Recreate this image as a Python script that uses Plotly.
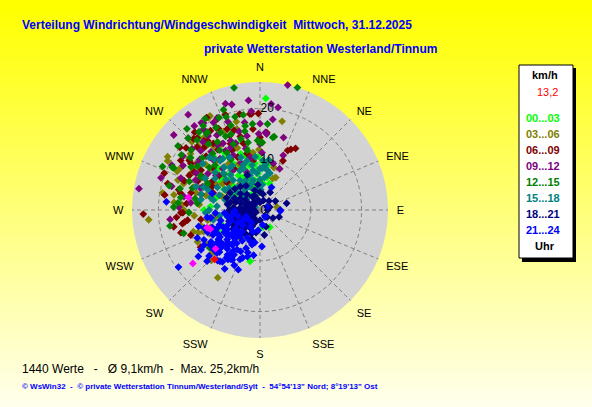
import plotly.graph_objects as go

W, H = 592, 407

# (direction in degrees, speed in km/h), one list per 3-hour block
h00_03 = [(347, 9), (337, 7.4), (0, 3.9), (321, 9.3), (334, 5.8), (341, 11.7), (319, 14), (311, 9.5),
          (306, 5.6), (248, 8), (338, 3.6), (292, 3.8), (270, 11), (357, 7.2), (6, 5.3), (354, 9.2),
          (330, 10.6), (214, 2.8), (348, 4.6), (150, 3.9), (170, 3.4), (191, 10.3), (339, 5.4), (6, 8.8),
          (320, 18.7), (317, 14.2), (230, 10), (274, 9.8), (258, 6.6), (264, 5.3), (3, 22), (325, 12.5),
          (315, 11.5), (300, 8.2), (343, 6.5), (352, 10.5), (328, 8), (310, 12), (12, 6.5), (20, 5.5),
          (330, 7), (335, 9.5), (340, 8.5), (345, 11), (350, 6), (355, 8), (358, 10.5), (325, 10),
          (318, 11), (312, 7), (305, 9.5), (300, 6.5), (290, 7), (343, 3), (0, 6), (3, 9.5), (348, 12.5),
          (336, 13), (322, 6), (315, 8.5), (280, 6), (285, 9), (328, 13.5), (10, 9), (240, 9), (250, 6),
          (345, 14)]

h03_06 = [(265, 22), (298, 20.6), (14, 18), (18, 8.8), (22, 6.7), (212, 15.7), (228, 12.6), (224, 13.8),
          (243, 13.8), (275, 17), (332, 21), (306, 17.3), (306, 15.6), (280, 17.2), (268, 15.2), (250, 13),
          (249, 11.9), (359, 11.9), (353, 11.4), (26, 7.1), (316, 17.6), (322, 18), (324, 15.6), (337, 14.8),
          (289, 13.8), (259, 10.5), (298, 15.4), (298, 17.7), (251, 10.3), (262, 9.3), (299, 7.3), (323, 6.5),
          (284, 5.4), (80, 3.4), (258, 4.6), (331, 20.8), (344, 16.6), (309, 17.6), (303, 15.5), (289, 15.9),
          (290, 17.2), (252, 13.8), (238, 12.6), (213, 6.8), (274, 15.4), (270, 15), (261, 8.5), (310, 12),
          (318, 13), (326, 11), (335, 10), (300, 12.5), (285, 11),
          (300, 10), (310, 14), (320, 11), (330, 15), (285, 13), (295, 18), (315, 19), (340, 13), (305, 9),
          (275, 12), (265, 13), (255, 12), (245, 11), (290, 8), (320, 16.5), (345, 18), (335, 17), (312, 8),
          (280, 19.5), (300, 21)]

h06_09 = [(359, 19), (355, 19), (25, 12.9), (25, 10.7), (27, 13.4), (332, 18.3), (30, 14), (268, 23),
          (308, 20), (291, 20.2), (286, 18.9), (261, 15), (260, 15.5), (259, 17.3), (262, 14.4), (268, 15.6),
          (292, 12.2), (284, 14), (335, 19.8), (333, 18), (338, 17.2), (338, 15.8), (348, 19.3), (354, 19),
          (5, 15.3), (0, 14.3), (319, 18.8), (321, 17.5), (328, 18.4), (302, 18.4), (304, 16.4), (291, 16),
          (304, 14), (312, 12.4), (321, 12.5), (293, 11.3), (290, 9.8), (254, 16.2), (261, 11.8), (336, 14.3),
          (346, 13.5), (337, 11.3), (347, 11.4), (352, 9.8), (238, 13.8), (268, 15.2), (317, 19.2), (323, 17.1),
          (315, 15), (300, 13), (310, 10.5), (325, 14.5), (296, 15.5), (330, 12), (318, 16.5), (284, 16.5),
          (279, 19),
          (300, 11), (305, 17), (315, 17.5), (325, 16), (335, 13), (345, 15), (355, 16), (285, 12),
          (295, 13.5), (310, 19), (320, 20), (330, 21), (340, 20), (282, 16), (275, 14.5), (265, 16.5),
          (250, 14.5), (300, 15), (310, 8.5), (318, 13.5), (328, 9.5), (342, 16.5), (296, 10.5)]

h09_12 = [(12.5, 25.2), (280, 24.2), (342, 22), (323, 23.5), (354, 21.7), (8, 18), (311, 22.5), (4, 15.3),
          (23, 11.7), (359, 15), (5, 15), (16, 9.5), (25.5, 9), (327, 20.4), (325, 19.4), (337, 14.8),
          (315, 20), (326, 20.7), (264, 17.8), (327, 15.2), (335, 13.6), (350, 14.8), (0, 13), (2, 11.3),
          (334, 12), (317, 13.4), (307, 15.3), (292, 16.8), (280, 15.2), (276, 13.7), (341, 7.8), (347, 12.4),
          (331, 15), (317, 14.2), (320, 17.5), (312, 18), (300, 17.5), (330, 17), (340, 18.5), (345, 16),
          (318, 11), (305, 12.5), (295, 14), (325, 9.5), (10, 20.5), (350, 10.5), (297, 19.5), (322, 21),
          (332, 19.5),
          (300, 14.5), (310, 15.5), (320, 15), (330, 13.5), (340, 14), (350, 17.5), (355, 19.5), (285, 18),
          (290, 12.5), (305, 18.5), (315, 16.5), (325, 17.8), (335, 20), (345, 21.5), (0, 17), (6, 21),
          (18, 15), (308, 11), (322, 12.8), (338, 10), (272, 16), (288, 20.5)]

h12_15 = [(17, 25.2), (348, 24.6), (350, 19), (10, 14.5), (294, 21), (260, 18), (253, 15.7), (233, 12.4),
          (326, 20), (329, 21), (336, 19.9), (11, 14.7), (0, 13.3), (349, 15.8), (339, 16), (296, 19.2),
          (325, 18.3), (332, 18.4), (285, 16.3), (275, 16.2), (307, 17.1), (299, 13.3), (297, 11.6), (296, 18.9),
          (358, 13.7), (350, 13.5), (350, 16.8), (341, 17.6), (333, 17.1), (326, 18.5), (311, 18), (305, 18.9),
          (312, 15.3), (320, 14.5), (326, 14.2), (279, 15.8), (272, 17), (276, 12.4), (235, 11.9), (230, 10.1),
          (2, 13.3), (318, 21.5), (340, 21), (302, 16), (315, 12.5), (288, 14), (330, 11.5), (322, 16.5),
          (308, 20.5), (345, 19),
          (300, 13.5), (310, 13), (318, 18.5), (328, 15.8), (338, 14), (348, 12), (355, 17), (285, 18.5),
          (292, 15), (305, 15), (315, 20), (322, 19.5), (335, 16), (345, 14.5), (5, 17), (268, 14), (280, 13),
          (315, 10), (330, 13), (340, 19.5), (295, 11.5)]

h15_18 = [(10, 8), (3, 8.2), (355, 7.3), (347, 6), (337, 4.9), (315, 4.7), (318, 7.9), (315, 10.2),
          (298, 9.5), (282, 9.4), (286, 7.1), (274, 5.9), (291, 10.9), (321, 12.5), (325, 10.2), (333, 8.7),
          (345, 10), (3.5, 9.8), (350, 7.9), (280, 11.8), (267, 10.7), (258, 9.4), (290, 13.4), (308, 5.7),
          (292, 3.6), (338, 8.8), (0, 8.2), (344, 7.1), (337, 8.9), (328, 10.3), (324, 12.5), (316, 14.4),
          (309, 14.5), (305, 10.8), (292, 12), (284, 10), (315, 6.3), (311, 3.9), (300, 1.1), (279, 2.6),
          (8, 6.5), (12, 7), (15, 7.5), (5, 5), (2, 4), (330, 6), (320, 9), (300, 8), (310, 11.5), (340, 11),
          (296, 6), (325, 5),
          (320, 11), (330, 12), (335, 6.5), (340, 9.5), (350, 9), (355, 10.5), (0, 6), (7, 9), (312, 9),
          (305, 7.5), (300, 12.5), (290, 8.5), (285, 12), (275, 8.5), (270, 10), (262, 8), (318, 13.5),
          (326, 7), (342, 5.5), (352, 4), (10, 10), (322, 3.5), (296, 4.5)]

h18_21 = [(76, 5.4), (122, 3), (340, 7.3), (73, 2), (270, 2), (260, 3), (250, 4), (240, 3.5), (230, 4.5),
          (220, 3), (210, 4), (200, 2.5), (280, 3), (290, 4), (300, 2.5), (310, 5), (320, 4), (330, 3),
          (350, 2), (0, 1.5), (20, 2), (45, 2.5), (90, 1.5), (135, 2), (180, 2), (190, 4.5), (215, 5.5),
          (235, 5.8), (255, 5.5), (265, 4.8), (275, 5.2), (285, 6), (295, 5.5), (305, 3.5), (245, 2),
          (225, 2), (205, 3.5), (260, 1), (280, 1.5), (235, 6.5), (220, 6.5), (250, 6.5), (265, 6.5),
          (300, 6.8), (330, 5.5), (345, 4), (10, 3.2), (60, 3.5), (110, 4), (160, 3.5), (170, 5), (195, 6),
          (240, 1), (315, 1.5),
          (265, 3.5), (275, 4), (255, 2.5), (245, 5), (235, 3), (225, 4), (215, 2), (285, 2), (295, 3),
          (250, 5.5), (260, 6), (270, 6), (280, 6.5), (240, 6), (230, 6), (210, 5.5), (200, 5), (290, 7),
          (310, 6.5), (320, 6), (300, 4.5), (325, 2), (340, 3), (355, 5), (0, 3.5), (30, 4), (220, 4.8),
          (262, 4.2), (248, 3), (232, 5.2), (272, 2.8), (288, 5)]

h21_24 = [(235, 19.6), (275, 18.5), (90, 4), (27, 5), (177, 7.2), (233, 15.2), (216, 12.6), (213, 11.6),
          (209, 11.2), (202, 10.5), (196, 8.7), (197, 6.5), (189, 6.5), (140, 1.5), (67, 1.5), (237, 11.5),
          (242, 10.5), (247, 9.1), (239, 7.5), (230, 6.9), (217, 6.5), (228, 8.7), (227, 9.9), (228, 11),
          (230, 12), (240, 5.1), (240, 3.8), (210, 3.8), (219, 8.3), (210, 9), (214, 10.5), (198, 4.5),
          (266, 8.8), (261, 9.8), (247, 11.2), (233, 10.3), (211, 11.3), (218, 12.8), (193, 7), (216, 10.9),
          (93, 4), (144, 1.7), (289, 10), (225, 7.5), (222, 9.5), (232, 7.8), (236, 9.5), (224, 11.5),
          (220, 5.5), (205, 6), (250, 6), (255, 4.5), (245, 8), (228, 4.5), (200, 8), (185, 4), (170, 3),
          (260, 5.5), (215, 3), (238, 13), (221, 7.2), (226, 10.6), (234, 8.2),
          (230, 8), (225, 9), (235, 10), (220, 10), (215, 8), (225, 12), (232, 11), (240, 9.5), (245, 7),
          (250, 8.5), (210, 7), (205, 9), (200, 10), (220, 13), (228, 13.5), (235, 12), (242, 12.5),
          (250, 10), (255, 8), (258, 6.5), (215, 11.5), (210, 10.2), (205, 12), (227, 7), (233, 6), (223, 6),
          (218, 8.8), (238, 8.3), (229, 10), (213, 9.5), (244, 10), (252, 11.5), (195, 9.5), (188, 9),
          (200, 12.5), (211, 13.5), (226, 14.5), (236, 14), (246, 13.5), (255, 12.5), (262, 10.5), (265, 7),
          (268, 5), (245, 3), (235, 4.5), (230, 3)]

last_hour = [(231.5, 16.9), (229, 11.6), (251.6, 11), (249, 10.5), (280, 14.3)]
current = [(222.6, 13.2)]

blocks = ["00...03", "03...06", "06...09", "09...12", "12...15", "15...18", "18...21", "21...24"]
block_colors = ["#00ff00", "#808000", "#800000", "#800080", "#008000", "#008080", "#000080", "#0000ff"]
block_data = [h00_03, h03_06, h06_09, h09_12, h12_15, h15_18, h18_21, h21_24]

compass = ["N", "NNE", "NE", "ENE", "E", "ESE", "SE", "SSE",
           "S", "SSW", "SW", "WSW", "W", "WNW", "NW", "NNW"]
compass_deg = [i * 22.5 for i in range(16)]

FONT = "Liberation Sans, Arial, sans-serif"


def px(x):
    return x / W


def py(y):
    return 1 - y / H


fig = go.Figure()

for name, col, pts in zip(blocks, block_colors, block_data):
    fig.add_trace(go.Scatterpolar(
        theta=[p[0] for p in pts], r=[p[1] for p in pts], mode="markers", name=name,
        marker=dict(symbol="diamond", size=6, color=col, line=dict(width=0))))

fig.add_trace(go.Scatterpolar(
    theta=[p[0] for p in last_hour], r=[p[1] for p in last_hour], mode="markers",
    marker=dict(symbol="diamond", size=6, color="#ff00ff", line=dict(width=0))))
fig.add_trace(go.Scatterpolar(
    theta=[p[0] for p in current], r=[p[1] for p in current], mode="markers",
    marker=dict(symbol="diamond", size=6, color="#ff0000", line=dict(width=0))))

# yellow gradient background
shapes = []
n = 60
for i in range(n):
    t = i / (n - 1)
    b = int(235 * t)
    shapes.append(dict(type="rect", xref="paper", yref="paper", layer="below",
                       x0=0, x1=1, y0=1 - (i + 1) / n - 0.002, y1=1 - i / n,
                       fillcolor="rgb(255,255,%d)" % b, line=dict(width=0)))

# legend box with shadow
shapes.append(dict(type="rect", xref="paper", yref="paper", x0=px(522), x1=px(576), y0=py(262), y1=py(68),
                   fillcolor="black", line=dict(width=0)))
shapes.append(dict(type="rect", xref="paper", yref="paper", x0=px(519), x1=px(573), y0=py(258), y1=py(65),
                   fillcolor="white", line=dict(color="black", width=1)))

ann = []


def text(x, y, s, size, color="black", bold=False, anchor="left"):
    if bold:
        s = "<b>" + s + "</b>"
    ann.append(dict(x=px(x), y=py(y), xref="paper", yref="paper", text=s, showarrow=False,
                    xanchor=anchor, yanchor="middle",
                    font=dict(size=size, color=color, family=FONT)))


text(20, 25, "Verteilung Windrichtung/Windgeschwindigkeit  Mittwoch, 31.12.2025", 12, "#0000ff", True)
text(439, 49, "private Wetterstation Westerland/Tinnum", 12, "#0000ff", True, "right")

text(545, 75, "km/h", 11, bold=True, anchor="center")
text(560, 92, "13,2", 11, "#ff0000", anchor="right")
for k, (name, col) in enumerate(zip(blocks, block_colors)):
    text(543, 118 + k * 16, name, 11, col, True, "center")
text(545, 246, "Uhr", 11, bold=True, anchor="center")

text(20, 369, "1440 Werte   -   \u00d8 9,1km/h  -  Max. 25,2km/h", 12)
text(20, 386, "\u00a9 WsWin32  -  \u00a9 private Wetterstation Tinnum/Westerland/Sylt  -  "
              "54\u00b054'13\" Nord; 8\u00b019'13\" Ost", 8, "#0000ff", True)

fig.update_layout(
    width=W, height=H, margin=dict(l=0, r=0, t=0, b=0),
    paper_bgcolor="#ffff80", showlegend=False,
    shapes=shapes, annotations=ann,
    polar=dict(
        domain=dict(x=[px(132), px(388)], y=[py(338), py(82)]),
        bgcolor="#d3d3d3",
        angularaxis=dict(rotation=90, direction="clockwise", tickmode="array",
                         tickvals=compass_deg, ticktext=compass, ticks="outside", ticklen=6,
                         tickcolor="rgba(0,0,0,0)", showline=False,
                         gridcolor="#808080", griddash="4px,3px", gridwidth=1,
                         tickfont=dict(size=11, color="black", family=FONT)),
        radialaxis=dict(range=[0, 25.2], tickvals=[0, 10, 20], angle=90, side="clockwise",
                        tickangle=90, ticks="", showline=False, gridcolor="#808080", griddash="4px,3px",
                        tickfont=dict(size=12, color="black", family=FONT)),
    ),
)

fig.write_html("out.html", config={"displayModeBar": False},
               post_script="document.body.style.margin='0';")
